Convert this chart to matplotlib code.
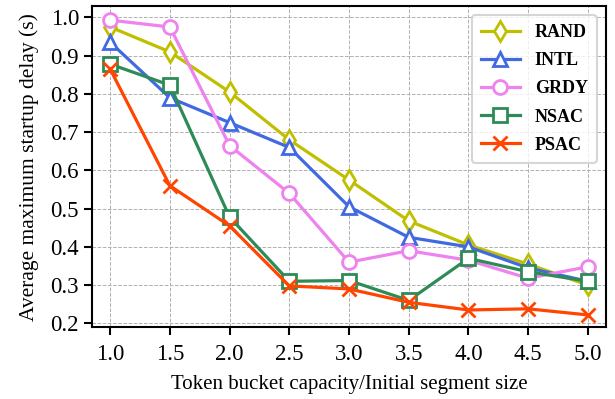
import matplotlib.pyplot as plt
import numpy as np

plt.rcParams['font.family'] = ['Liberation Serif', 'DejaVu Serif']

# Dane
ratio = [1.0, 1.5, 2.0, 2.5, 3.0, 3.5, 4.0, 4.5, 5.0]
rand = [0.975, 0.910, 0.805, 0.680, 0.575, 0.468, 0.405, 0.355, 0.300]
intl = [0.935, 0.790, 0.725, 0.660, 0.505, 0.425, 0.400, 0.345, 0.310]
grdy = [0.993, 0.975, 0.665, 0.540, 0.360, 0.390, 0.365, 0.318, 0.348]
nsac = [0.878, 0.823, 0.478, 0.310, 0.312, 0.260, 0.370, 0.335, 0.310]
psac = [0.865, 0.560, 0.455, 0.298, 0.290, 0.255, 0.235, 0.238, 0.222]

series = [
    ("RAND", rand, '#bfbf00', 'd'),
    ("INTL", intl, 'royalblue', '^'),
    ("GRDY", grdy, 'violet', 'o'),
    ("NSAC", nsac, 'seagreen', 's'),
    ("PSAC", psac, 'orangered', 'x'),
]

fig, ax = plt.subplots(figsize=(6.15, 3.99), dpi=100)

for label, vals, col, m in series:
    ax.plot(ratio, vals, color=col, marker=m, markersize=10, markeredgewidth=2,
            markerfacecolor='white', linewidth=2.3, label=label)

ax.set_xlim(0.85, 5.15)
ax.set_ylim(0.19, 1.03)
ax.set_xticks(ratio)
ax.set_xticklabels([f"{v:.1f}" for v in ratio])
yt = np.arange(0.2, 1.01, 0.1)
ax.set_yticks(yt)
ax.set_yticklabels([f"{v:.1f}" for v in yt])
ax.tick_params(labelsize=16.5, width=1.5, length=6)
ax.tick_params(axis='x', pad=6)
for s in ax.spines.values():
    s.set_linewidth(1.5)
ax.grid(True, linestyle='--', color='#b0b0b0', linewidth=0.7)
ax.set_xlabel('Token bucket capacity/Initial segment size', fontsize=15, labelpad=7)
ax.set_ylabel('Average maximum startup delay (s)', fontsize=15.5, labelpad=8)
leg = ax.legend(loc='upper right', prop={'size': 13, 'weight': 'bold'},
                handlelength=2.2, handletextpad=0.8, borderpad=0.5,
                labelspacing=0.62)
leg.get_frame().set_linewidth(1.5)

plt.subplots_adjust(left=0.15, right=0.985, top=0.985, bottom=0.18)
plt.savefig("out.png")
